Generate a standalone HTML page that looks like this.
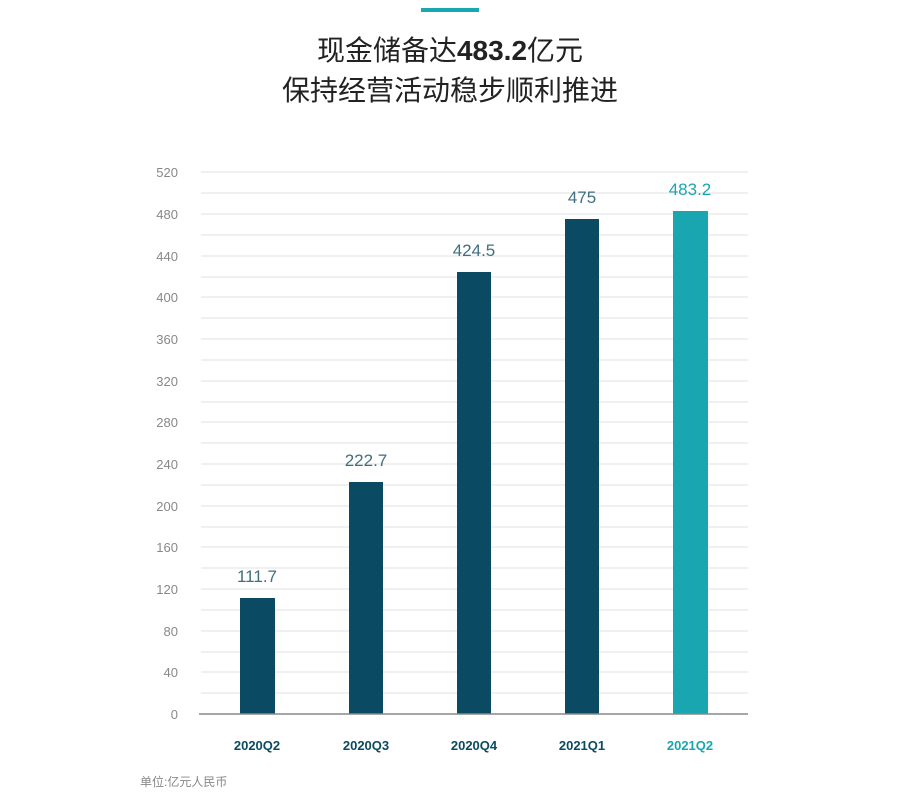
<!DOCTYPE html>
<html><head><meta charset="utf-8"><style>
body{margin:0;background:#fff;width:900px;height:798px;overflow:hidden;font-family:"Liberation Sans","Noto Sans CJK SC",sans-serif}
</style></head><body>
<svg width="900" height="798" xmlns="http://www.w3.org/2000/svg" font-family="Liberation Sans, Noto Sans CJK SC, sans-serif">
<rect x="421" y="8" width="58" height="4" fill="#1aa6b0"/>
<text x="450" y="60" text-anchor="middle" font-size="28" fill="#222">现金储备达<tspan font-weight="bold">483.2</tspan>亿元</text>
<text x="450" y="100" text-anchor="middle" font-size="28" fill="#222">保持经营活动稳步顺利推进</text>
<g stroke="#ececec" stroke-width="1.5">
<line x1="201" x2="748" y1="172" y2="172"/><line x1="201" x2="748" y1="193" y2="193"/>
<line x1="201" x2="748" y1="214" y2="214"/><line x1="201" x2="748" y1="235" y2="235"/>
<line x1="201" x2="748" y1="256" y2="256"/><line x1="201" x2="748" y1="277" y2="277"/>
<line x1="201" x2="748" y1="297" y2="297"/><line x1="201" x2="748" y1="318" y2="318"/>
<line x1="201" x2="748" y1="339" y2="339"/><line x1="201" x2="748" y1="360" y2="360"/>
<line x1="201" x2="748" y1="381" y2="381"/><line x1="201" x2="748" y1="402" y2="402"/>
<line x1="201" x2="748" y1="422" y2="422"/><line x1="201" x2="748" y1="443" y2="443"/>
<line x1="201" x2="748" y1="464" y2="464"/><line x1="201" x2="748" y1="485" y2="485"/>
<line x1="201" x2="748" y1="506" y2="506"/><line x1="201" x2="748" y1="527" y2="527"/>
<line x1="201" x2="748" y1="547" y2="547"/><line x1="201" x2="748" y1="568" y2="568"/>
<line x1="201" x2="748" y1="589" y2="589"/><line x1="201" x2="748" y1="610" y2="610"/>
<line x1="201" x2="748" y1="631" y2="631"/><line x1="201" x2="748" y1="652" y2="652"/>
<line x1="201" x2="748" y1="672" y2="672"/><line x1="201" x2="748" y1="693" y2="693"/>
</g>
<g font-size="13" fill="#888" text-anchor="end">
<text x="178" y="177">520</text><text x="178" y="219">480</text><text x="178" y="261">440</text>
<text x="178" y="302">400</text><text x="178" y="344">360</text><text x="178" y="386">320</text>
<text x="178" y="427">280</text><text x="178" y="469">240</text><text x="178" y="511">200</text>
<text x="178" y="552">160</text><text x="178" y="594">120</text><text x="178" y="636">80</text>
<text x="178" y="677">40</text><text x="178" y="719">0</text>
</g>
<g fill="#0b4a63">
<rect x="240" y="598" width="35" height="116"/>
<rect x="349" y="482" width="34" height="232"/>
<rect x="457" y="272" width="34" height="442"/>
<rect x="565" y="219" width="34" height="495"/>
</g>
<rect x="673" y="211" width="35" height="503" fill="#1aa6b0"/>
<line x1="199" x2="748" y1="714" y2="714" stroke="#888" stroke-width="1.5"/>
<g font-size="17" text-anchor="middle" fill="#3f6f80">
<text x="257" y="582">111.7</text><text x="366" y="466">222.7</text>
<text x="474" y="256">424.5</text><text x="582" y="203">475</text>
<text x="690" y="195" fill="#1aa6b0">483.2</text>
</g>
<g font-size="13" font-weight="bold" text-anchor="middle" fill="#0b4a63">
<text x="257" y="750">2020Q2</text><text x="366" y="750">2020Q3</text>
<text x="474" y="750">2020Q4</text><text x="582" y="750">2021Q1</text>
<text x="690" y="750" fill="#1aa6b0">2021Q2</text>
</g>
<text x="140" y="786" font-size="12" fill="#888">单位:亿元人民币</text>
</svg>
</body></html>
